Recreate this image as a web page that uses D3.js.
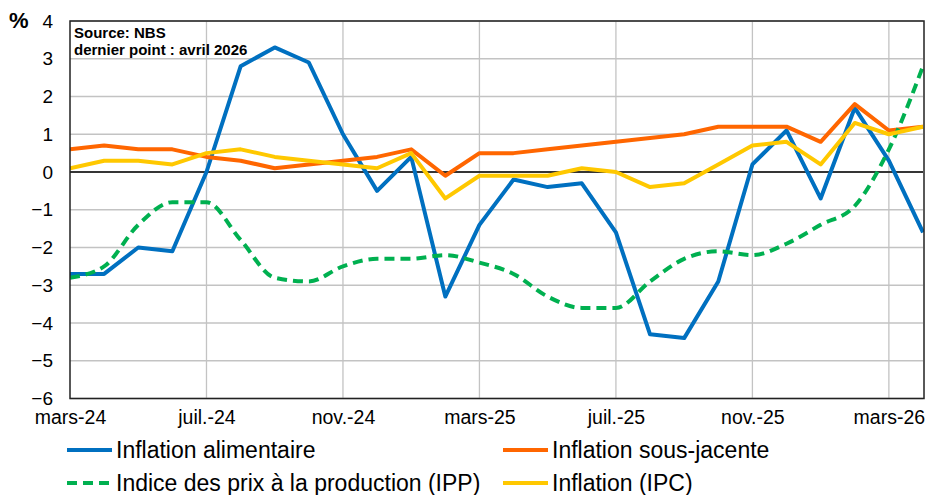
<!DOCTYPE html>
<html>
<head>
<meta charset="utf-8">
<script src="https://cdn.jsdelivr.net/npm/d3@7"></script>
<style>
  html, body { margin: 0; padding: 0; background: #fff; }
  svg { display: block; font-family: "Liberation Sans", Arial, sans-serif; }
</style>
</head>
<body>
<div id="chart"></div>
<script>
// Data
const months = [
  'mars-24', 'avr.-24', 'mai-24', 'juin-24', 'juil.-24', 'août-24', 'sept.-24', 'oct.-24',
  'nov.-24', 'déc.-24', 'janv.-25', 'févr.-25', 'mars-25', 'avr.-25', 'mai-25', 'juin-25',
  'juil.-25', 'août-25', 'sept.-25', 'oct.-25', 'nov.-25', 'déc.-25', 'janv.-26', 'févr.-26',
  'mars-26', 'avr.-26'
];
const tickMonths = ['mars-24', 'juil.-24', 'nov.-24', 'mars-25', 'juil.-25', 'nov.-25', 'mars-26'];
const yTicks = [4, 3, 2, 1, 0, -1, -2, -3, -4, -5, -6];

const foodInflation = [-2.7, -2.7, -2.0, -2.1, 0.0, 2.8, 3.3, 2.9, 1.0, -0.5, 0.4, -3.3, -1.4,
  -0.2, -0.4, -0.3, -1.6, -4.3, -4.4, -2.9, 0.2, 1.1, -0.7, 1.7, 0.3, -1.6];
const coreInflation = [0.6, 0.7, 0.6, 0.6, 0.4, 0.3, 0.1, 0.2, 0.3, 0.4, 0.6, -0.1, 0.5,
  0.5, 0.6, 0.7, 0.8, 0.9, 1.0, 1.2, 1.2, 1.2, 0.8, 1.8, 1.1, 1.2];
const ppi = [-2.8, -2.5, -1.4, -0.8, -0.8, -1.8, -2.8, -2.9, -2.5, -2.3, -2.3, -2.2, -2.4,
  -2.7, -3.3, -3.6, -3.6, -2.9, -2.3, -2.1, -2.2, -1.9, -1.4, -0.9, 0.6, 2.8];
const cpi = [0.1, 0.3, 0.3, 0.2, 0.5, 0.6, 0.4, 0.3, 0.2, 0.1, 0.5, -0.7, -0.1,
  -0.1, -0.1, 0.1, 0.0, -0.4, -0.3, 0.2, 0.7, 0.8, 0.2, 1.3, 1.0, 1.2];

// series in drawing order (same as Excel legend order)
const series = [
  { name: 'Inflation alimentaire', values: foodInflation, color: '#0070C0', dash: null, smooth: false },
  { name: 'Inflation sous-jacente', values: coreInflation, color: '#FF6600', dash: null, smooth: false },
  { name: 'Indice des prix à la production (IPP)', values: ppi, color: '#00B050', dash: '10,6', smooth: true },
  { name: 'Inflation (IPC)', values: cpi, color: '#FFC800', dash: null, smooth: false }
];

// Layout
const width  = 928;
const height = 495;
const plot = { left: 70, right: 923, top: 21, bottom: 398.5 };

const svg = d3.select('#chart')
  .append('svg')
    .attr('width', width)
    .attr('height', height);

const x = d3.scalePoint()
  .domain(months)
  .range([plot.left, plot.right]);

const y = d3.scaleLinear()
  .domain([-6, 4])
  .range([plot.bottom, plot.top]);

// Grid
const grid = svg.append('g');
grid.selectAll('line.h')
  .data(yTicks)
  .join('line')
    .attr('x1', plot.left).attr('x2', plot.right)
    .attr('y1', d => y(d)).attr('y2', d => y(d))
    .attr('stroke', '#c3c3c3')
    .attr('stroke-width', 1.3);

grid.selectAll('line.v')
  .data(tickMonths.slice(1))
  .join('line')
    .attr('x1', d => x(d)).attr('x2', d => x(d))
    .attr('y1', plot.top).attr('y2', plot.bottom)
    .attr('stroke', '#c3c3c3')
    .attr('stroke-width', 1.3);

// zero line
svg.append('line')
  .attr('x1', plot.left).attr('x2', plot.right)
  .attr('y1', y(0)).attr('y2', y(0))
  .attr('stroke', '#000')
  .attr('stroke-width', 1.3);

// Axes (labels only, Excel style)
const yAxis = d3.axisLeft(y).tickValues(yTicks).tickSize(0).tickPadding(17);
svg.append('g')
  .attr('transform', `translate(${plot.left},0)`)
  .call(yAxis)
  .call(g => g.select('.domain').remove())
  .call(g => g.selectAll('text')
    .attr('font-size', 19)
    .attr('font-family', '"Liberation Sans", Arial, sans-serif')
    .attr('fill', '#000'));

const xAxis = d3.axisBottom(x).tickValues(tickMonths).tickSize(0).tickPadding(12);
svg.append('g')
  .attr('transform', `translate(0,${plot.bottom})`)
  .call(xAxis)
  .call(g => g.select('.domain').remove())
  .call(g => g.selectAll('text')
    .attr('font-size', 19.5)
    .attr('font-family', '"Liberation Sans", Arial, sans-serif')
    .attr('fill', '#000'));

// Lines
const lineFor = s => d3.line()
  .x((d, i) => x(months[i]))
  .y(d => y(d))
  .curve(s.smooth ? d3.curveMonotoneX : d3.curveLinear);

svg.append('clipPath').attr('id', 'clip')
  .append('rect')
    .attr('x', plot.left).attr('y', plot.top)
    .attr('width', plot.right - plot.left + 1)
    .attr('height', plot.bottom - plot.top);

svg.append('g')
  .attr('clip-path', 'url(#clip)')
  .selectAll('path')
  .data(series)
  .join('path')
    .attr('d', s => lineFor(s)(s.values))
    .attr('fill', 'none')
    .attr('stroke', s => s.color)
    .attr('stroke-width', 4)
    .attr('stroke-linejoin', 'round')
    .attr('stroke-dasharray', s => s.dash);

// Plot border
svg.append('rect')
  .attr('x', plot.left).attr('y', plot.top)
  .attr('width', plot.right - plot.left + 1)
  .attr('height', plot.bottom - plot.top)
  .attr('fill', 'none')
  .attr('stroke', '#222')
  .attr('stroke-width', 1.5);

// Unit label
svg.append('text')
  .attr('x', 9).attr('y', 28)
  .attr('font-size', 22)
  .attr('font-weight', 'bold')
  .text('%');

// Source note
const note = svg.append('text')
  .attr('font-size', 15)
  .attr('font-weight', 'bold');
note.append('tspan').attr('x', 74).attr('y', 38).text('Source: NBS');
note.append('tspan').attr('x', 74).attr('y', 55).text('dernier point : avril 2026');

// Legend
const legendPos = [
  { x: 67, y: 450 },
  { x: 503, y: 450 },
  { x: 67, y: 483 },
  { x: 503, y: 483 }
];
const legend = svg.append('g')
  .selectAll('g')
  .data(series)
  .join('g')
    .attr('transform', (d, i) => `translate(${legendPos[i].x},${legendPos[i].y})`);

legend.append('line')
  .attr('x1', 0).attr('x2', 45)
  .attr('stroke', d => d.color)
  .attr('stroke-width', 4)
  .attr('stroke-dasharray', d => d.dash);

legend.append('text')
  .attr('x', 49)
  .attr('dy', '0.35em')
  .attr('font-size', 23)
  .text(d => d.name);
</script>
</body>
</html>
